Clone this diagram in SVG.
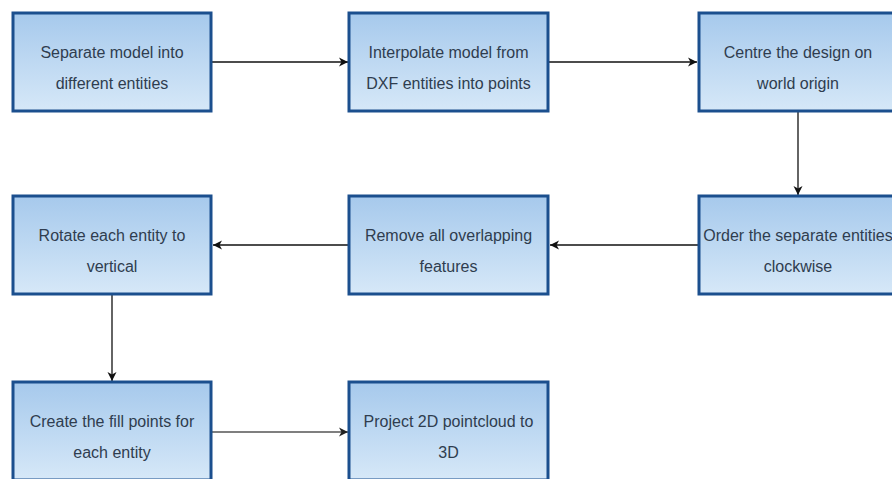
<svg xmlns="http://www.w3.org/2000/svg" width="892" height="479" viewBox="0 0 892 479">
<defs>
<linearGradient id="fill" x1="0" y1="0" x2="0" y2="1">
<stop offset="0" stop-color="#a6c9ec"/>
<stop offset="1" stop-color="#d6e8f8"/>
</linearGradient>
<marker id="arr" markerWidth="12" markerHeight="12" refX="10" refY="6" orient="auto" markerUnits="userSpaceOnUse">
<path d="M1,1.5 L10,6 L1,10.5 L3.5,6 Z" fill="#111"/>
</marker>
<marker id="arrg" markerWidth="12" markerHeight="12" refX="10" refY="6" orient="auto" markerUnits="userSpaceOnUse">
<path d="M1,1.5 L10,6 L1,10.5 L3.5,6 Z" fill="#222"/>
</marker>
</defs>
<style>
.box{fill:url(#fill);stroke:#1b4f8e;stroke-width:3}
.t{font-family:"Liberation Sans",Arial,sans-serif;font-size:16px;fill:#2f3d4f;text-anchor:middle}
.c{fill:none;stroke:#111;stroke-width:1.3}
.cg{fill:none;stroke:#555;stroke-width:1.6}
</style>
<rect width="892" height="479" fill="#fff"/>
<g id="connectors">
<path class="c" d="M212,62 H348" marker-end="url(#arr)"/>
<path class="c" d="M549,62 H697" marker-end="url(#arr)"/>
<path class="c" d="M798,112 V195" marker-end="url(#arr)"/>
<path class="c" d="M698,245 H550" marker-end="url(#arr)"/>
<path class="c" d="M348,245 H213" marker-end="url(#arr)"/>
<path class="c" d="M112,295 V381" marker-end="url(#arr)"/>
<path class="cg" d="M212,432 H348" marker-end="url(#arrg)"/>
</g>
<g id="n1"><rect class="box" x="13" y="13" width="198" height="98"/>
<text class="t" x="112" y="58">Separate model into</text><text class="t" x="112" y="89">different entities</text></g>
<g id="n2"><rect class="box" x="349" y="13" width="199" height="98"/>
<text class="t" x="448.5" y="58">Interpolate model from</text><text class="t" x="448.5" y="89">DXF entities into points</text></g>
<g id="n3"><rect class="box" x="699" y="13" width="198" height="98"/>
<text class="t" x="798" y="58">Centre the design on</text><text class="t" x="798" y="89">world origin</text></g>
<g id="n4"><rect class="box" x="699" y="196" width="198" height="98"/>
<text class="t" x="798" y="241">Order the separate entities</text><text class="t" x="798" y="272">clockwise</text></g>
<g id="n5"><rect class="box" x="349" y="196" width="199" height="98"/>
<text class="t" x="448.5" y="241">Remove all overlapping</text><text class="t" x="448.5" y="272">features</text></g>
<g id="n6"><rect class="box" x="13" y="196" width="198" height="98"/>
<text class="t" x="112" y="241">Rotate each entity to</text><text class="t" x="112" y="272">vertical</text></g>
<g id="n7"><rect class="box" x="13" y="382" width="198" height="98"/>
<text class="t" x="112" y="427">Create the fill points for</text><text class="t" x="112" y="458">each entity</text></g>
<g id="n8"><rect class="box" x="349" y="382" width="199" height="98"/>
<text class="t" x="448.5" y="427">Project 2D pointcloud to</text><text class="t" x="448.5" y="458">3D</text></g>
</svg>
